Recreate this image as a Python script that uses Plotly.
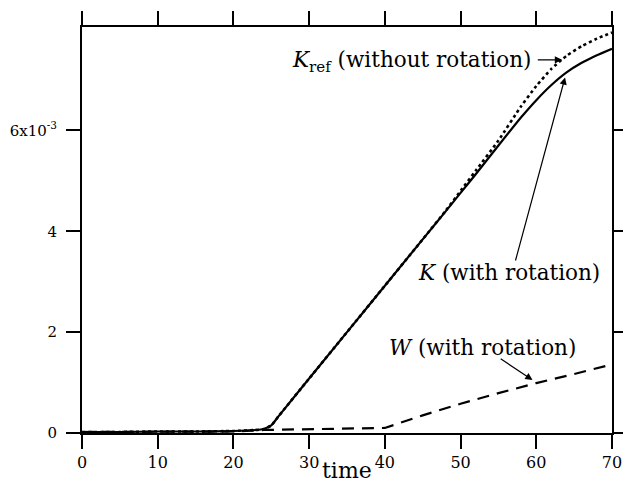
import plotly.graph_objects as go

# time samples
t = [0, 5, 10, 15, 20, 23, 24, 25, 26, 30, 35, 40, 45, 48, 50, 52, 55, 58, 60, 62, 64, 66, 68, 70]
# K (with rotation)
K = [0.02, 0.02, 0.03, 0.03, 0.04, 0.06, 0.08, 0.15, 0.34, 1.08, 2.00, 2.92, 3.84, 4.39,
     4.76, 5.13, 5.70, 6.26, 6.60, 6.90, 7.15, 7.34, 7.49, 7.62]
# K_ref (without rotation)
Kref = [0.02, 0.02, 0.03, 0.03, 0.04, 0.06, 0.08, 0.15, 0.34, 1.08, 2.00, 2.92, 3.84, 4.40,
        4.80, 5.20, 5.80, 6.48, 6.88, 7.22, 7.48, 7.67, 7.82, 7.94]
# W (with rotation)
tw = [0, 10, 20, 24, 30, 35, 40, 45, 50, 55, 60, 65, 70]
W = [0.02, 0.02, 0.03, 0.06, 0.08, 0.09, 0.10, 0.35, 0.58, 0.79, 0.99, 1.17, 1.36]

x_ticks = [0, 10, 20, 30, 40, 50, 60, 70]
y_ticks = [0, 0.002, 0.004, 0.006]
y_ticktext = ["0", "2", "4", "6x10<sup>-3</sup>"]

scale = 1e-3
fig = go.Figure()
fig.add_trace(go.Scatter(x=tw, y=[v * scale for v in W], mode="lines",
                         line=dict(color="black", width=2.2, dash="12px,8px")))
fig.add_trace(go.Scatter(x=t, y=[v * scale for v in K], mode="lines",
                         line=dict(color="black", width=2.2, shape="spline", smoothing=0.5)))
fig.add_trace(go.Scatter(x=t, y=[v * scale for v in Kref], mode="lines",
                         line=dict(color="black", width=2.6, dash="3px,3px",
                                   shape="spline", smoothing=0.5)))

serif = "DejaVu Serif"
fig.update_layout(
    width=623, height=485,
    margin=dict(l=82, r=11, t=27, b=52),
    paper_bgcolor="white", plot_bgcolor="white",
    showlegend=False,
    font=dict(family=serif, color="black", size=16),
)
fig.update_xaxes(range=[0, 70], tickvals=x_ticks, automargin=False,
                 showline=True, linewidth=2, linecolor="black", mirror="ticks",
                 ticks="outside", ticklen=14, tickwidth=2, tickcolor="black",
                 showgrid=False, zeroline=False, ticklabelstandoff=0,
                 ticklabeloverflow="allow",
                 tickfont=dict(family=serif, size=16))
fig.update_yaxes(range=[0, 8.05e-3], tickvals=y_ticks, ticktext=y_ticktext,
                 automargin=False,
                 showline=True, linewidth=2, linecolor="black", mirror="ticks",
                 ticks="outside", ticklen=14, tickwidth=2, tickcolor="black",
                 showgrid=False, zeroline=False, ticklabelstandoff=6,
                 ticklabeloverflow="allow",
                 tickfont=dict(family=serif, size=15))

# axis title
fig.add_annotation(x=0.5, y=-37 / 406, xref="paper", yref="paper", showarrow=False,
                   xanchor="center", yanchor="middle", text="time",
                   font=dict(family=serif, size=22))

# labels
fig.add_annotation(x=59.6, y=7.36e-3, xanchor="right", yanchor="middle", showarrow=False,
                   text="<i>K</i><sub>ref</sub> (without rotation)",
                   font=dict(family=serif, size=21.5))
fig.add_annotation(x=56.4, y=3.19e-3, xanchor="center", yanchor="middle", showarrow=False,
                   text="<i>K</i> (with rotation)", font=dict(family=serif, size=21.5))
fig.add_annotation(x=52.9, y=1.69e-3, xanchor="center", yanchor="middle", showarrow=False,
                   text="<i>W</i> (with rotation)", font=dict(family=serif, size=21.5))

# arrows
for (x0, y0, x1, y1) in [(60.0, 7.40e-3, 63.4, 7.40e-3),
                         (57.2, 3.39e-3, 63.8, 7.05e-3),
                         (55.1, 1.49e-3, 59.5, 1.05e-3)]:
    fig.add_annotation(x=x1, y=y1, ax=x0, ay=y0, axref="x", ayref="y", xref="x", yref="y",
                       text="", showarrow=True, arrowhead=2, arrowsize=1.2, arrowwidth=1.2,
                       arrowcolor="black", standoff=0, startstandoff=0)

fig.write_html("out.html")
